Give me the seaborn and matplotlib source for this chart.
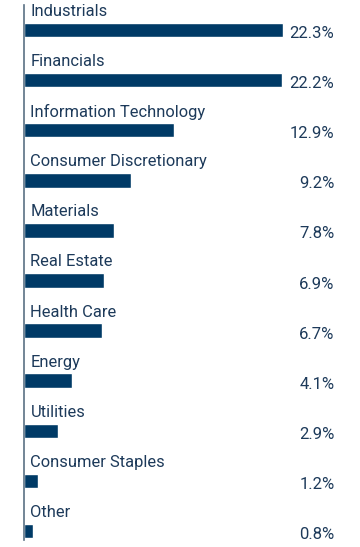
import pandas as pd
import seaborn as sns
import matplotlib.pyplot as plt

# Sector weights
sectors = ["Industrials", "Financials", "Information Technology", "Consumer Discretionary",
           "Materials", "Real Estate", "Health Care", "Energy", "Utilities",
           "Consumer Staples", "Other"]
weights = [22.3, 22.2, 12.9, 9.2, 7.8, 6.9, 6.7, 4.1, 2.9, 1.2, 0.8]

df = pd.DataFrame({"sector": sectors, "weight": weights})

sns.set_theme(style="white")
plt.rcParams['font.family'] = ['Roboto', 'DejaVu Sans']

bar_color = "#003a66"
text_color = "#1d3a5a"

fig = plt.figure(figsize=(3.6, 5.47), dpi=100)
ax = fig.add_axes([24 / 360, 7 / 547, 312 / 360, 535 / 547])

sns.barplot(data=df, x="weight", y="sector", orient="h", color=bar_color,
            width=0.29, saturation=1, ax=ax)

for i, (name, val) in enumerate(zip(sectors, weights)):
    ax.text(0.55, i - 0.37, name, va="center", ha="left", fontsize=11.9, color=text_color)
    ax.text(0.995, i + 0.07, f"{val}%", va="center", ha="right", fontsize=12,
            color=text_color, transform=ax.get_yaxis_transform())

ax.set_xlim(0, 312 / 11.6)
ax.set_ylim(10.18, -0.5)
ax.set_xlabel("")
ax.set_ylabel("")
ax.set_xticks([])
ax.set_yticks([])
for s in ["top", "right", "bottom"]:
    ax.spines[s].set_visible(False)
ax.spines["left"].set_color("#5a7184")
ax.spines["left"].set_linewidth(1.2)

fig.savefig("out.png", dpi=100)
